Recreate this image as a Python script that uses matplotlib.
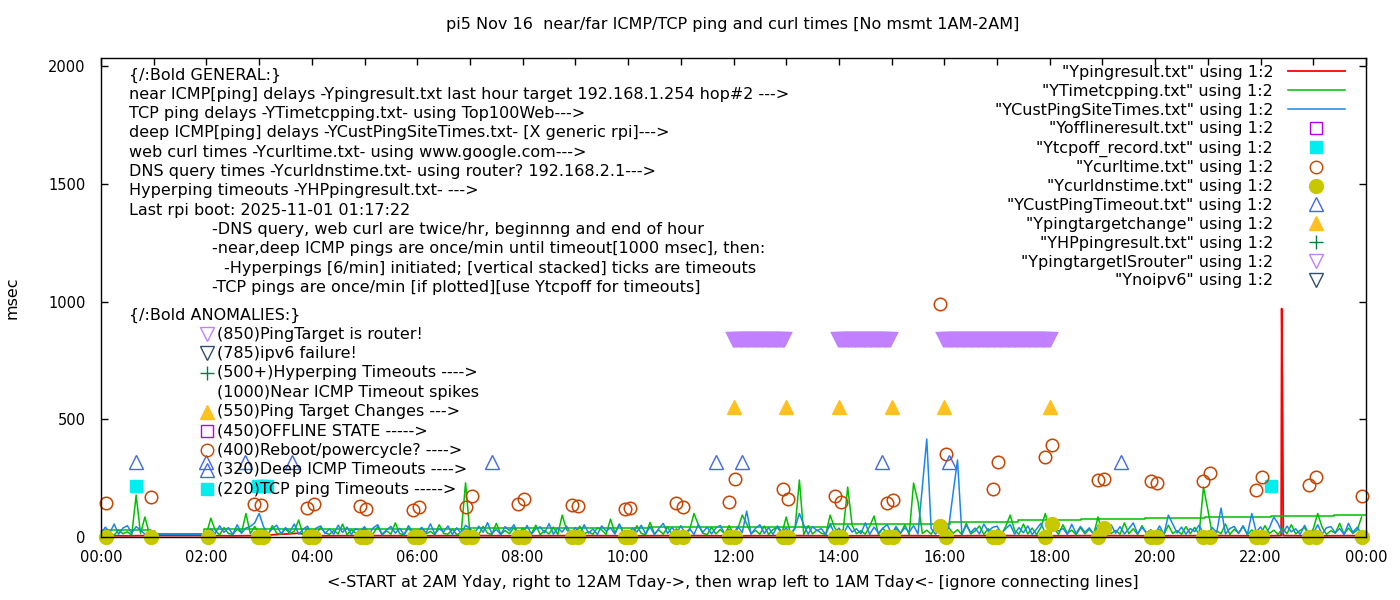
import matplotlib
matplotlib.use('Agg')
import matplotlib.pyplot as plt
from matplotlib.lines import Line2D

plt.rcParams['font.family'] = ['DejaVu Sans']

# x values are hours of the day, y values msec

# 5-minute samples, hour 0 then 2..23 (no msmt 1AM-2AM)
sample_hours = [0] + list(range(2, 24))
sample_minutes = [0, 5, 10, 15, 20, 25, 30, 35, 40, 45, 50, 55]

# YCustPingSiteTimes.txt (deep ICMP), one row per sampled hour
blue_rows = [
    [14, 42, 18, 55, 12, 38, 48, 16, 44, 30, 12, 12],
    [12, 35, 14, 48, 20, 40, 11, 52, 16, 38, 45, 60],
    [100, 44, 12, 36, 50, 14, 40, 22, 55, 12, 33, 46],
    [10, 38, 47, 15, 34, 12, 50, 19, 42, 11, 36, 25],
    [44, 13, 39, 52, 12, 30, 45, 16, 37, 10, 48, 20],
    [12, 41, 17, 56, 13, 35, 22, 47, 11, 39, 14, 50],
    [36, 12, 46, 20, 61, 14, 33, 10, 44, 27, 52, 13],
    [15, 49, 11, 35, 43, 18, 57, 12, 38, 21, 46, 14],
    [40, 13, 52, 16, 34, 11, 47, 25, 39, 12, 55, 17],
    [12, 37, 21, 50, 14, 43, 10, 36, 58, 15, 41, 13],
    [48, 16, 35, 11, 53, 20, 42, 13, 38, 49, 12, 33],
    [14, 45, 19, 110, 12, 37, 52, 15, 40, 11, 47, 22],
    [38, 13, 39, 100, 51, 12, 44, 27, 36, 10, 56, 14],
    [38, 12, 49, 21, 35, 14, 60, 11, 42, 17, 37, 53],
    [12, 45, 16, 39, 22, 48, 13, 212, 416, 36, 12, 40],
    [15, 43, 187, 327, 11, 50, 19, 38, 13, 55, 24, 41],
    [46, 14, 36, 52, 12, 40, 18, 47, 11, 34, 58, 16],
    [13, 42, 25, 37, 11, 54, 15, 45, 20, 39, 12, 49],
    [37, 12, 51, 16, 44, 13, 35, 60, 14, 41, 19, 30],
    [14, 47, 11, 93, 55, 17, 42, 12, 36, 23, 50, 13],
    [12, 40, 19, 123, 13, 36, 45, 15, 48, 11, 100, 21],
    [43, 12, 38, 85, 57, 14, 46, 22, 35, 11, 49, 13],
    [15, 52, 12, 39, 44, 18, 36, 11, 58, 20, 41, 14],
]

# YTimetcpping.txt (TCP ping)
green_rows = [
    [10, 25, 12, 8, 30, 14, 22, 9, 178, 15, 85, 13],
    [13, 80, 28, 9, 40, 15, 11, 33, 18, 100, 14, 45],
    [12, 30, 9, 48, 16, 11, 36, 14, 25, 72, 10, 38],
    [14, 9, 42, 18, 11, 28, 13, 55, 10, 31, 16, 12],
    [35, 11, 15, 44, 9, 26, 12, 60, 14, 10, 38, 17],
    [11, 40, 13, 24, 9, 52, 15, 12, 33, 10, 18, 230],
    [13, 29, 10, 45, 16, 11, 58, 12, 27, 14, 40, 9],
    [38, 12, 16, 50, 10, 27, 13, 42, 11, 93, 31, 15],
    [10, 46, 14, 22, 12, 39, 30, 11, 76, 17, 54, 13],
    [27, 11, 48, 15, 10, 62, 13, 30, 12, 43, 9, 35],
    [12, 14, 29, 100, 52, 16, 10, 41, 13, 33, 12, 48],
    [13, 37, 93, 56, 15, 28, 12, 46, 11, 32, 40, 14],
    [85, 12, 35, 242, 10, 48, 13, 30, 16, 11, 93, 40],
    [15, 33, 212, 50, 14, 27, 12, 45, 89, 10, 38, 13],
    [11, 36, 14, 52, 10, 229, 150, 15, 29, 12, 44, 16],
    [12, 40, 15, 31, 10, 58, 13, 26, 47, 11, 35, 14],
    [30, 11, 46, 93, 27, 12, 55, 13, 38, 10, 42, 100],
    [14, 36, 11, 52, 16, 29, 10, 40, 13, 33, 12, 85],
    [10, 44, 15, 28, 12, 60, 14, 35, 11, 48, 16, 30],
    [13, 32, 10, 50, 15, 27, 12, 44, 14, 41, 11, 212],
    [115, 12, 26, 14, 55, 11, 33, 16, 45, 10, 30, 13],
    [12, 48, 15, 29, 11, 37, 14, 52, 13, 28, 40, 10],
    [35, 100, 42, 11, 27, 16, 58, 12, 38, 15, 30, 85],
]

# connecting-line steps of the TCP file
tcp_step_t = [0.0, 0.95, 1.95, 7.0, 10.4, 13.83, 16.1, 17.4, 18.6, 19.8, 20.95, 22.2, 23.4, 24.0]
tcp_step_v = [30, 13, 32, 38, 42, 55, 62, 72, 76, 80, 85, 88, 93, 93]

# Ypingresult.txt (near ICMP)
red_t = [0.0, 0.5, 0.92, 2.0, 2.5, 3.0, 3.75, 4.0, 5.0, 6.0, 7.0, 8.0, 9.0, 10.0, 11.0, 12.0,
         13.0, 14.0, 15.0, 16.0, 17.0, 18.0, 19.0, 20.0, 21.0, 22.0, 22.39, 22.40, 22.42,
         22.43, 23.0, 24.0]
red_v = [6, 5, 6, 6, 5, 6, 16, 5, 6, 5, 6, 5, 6, 5, 6, 5,
         6, 5, 6, 5, 6, 5, 6, 5, 6, 5, 6, 970, 480,
         6, 5, 6]

# Yofflineresult.txt - nothing
offline_t = []
offline_v = []

# Ytcpoff_record.txt
tcpoff_t = [0.66, 2.98, 3.04, 3.10, 3.15, 22.2]
tcpoff_v = [215, 215, 215, 215, 215, 215]

# Ycurltime.txt
curl_t = [0.09, 0.95, 2.90, 3.04, 3.91, 4.04, 4.91, 5.03, 5.92, 6.03, 6.92, 7.04, 7.91, 8.03,
          8.94, 9.05, 9.94, 10.04, 10.91, 11.04, 11.91, 12.03, 12.94, 13.03, 13.93, 14.04,
          14.91, 15.03, 15.92, 16.03, 16.92, 17.02, 17.91, 18.04, 18.91, 19.03, 19.92, 20.03,
          20.91, 21.04, 21.91, 22.03, 22.92, 23.05, 23.92]
curl_v = [144, 170, 142, 136, 123, 140, 132, 119, 115, 127, 127, 174, 140, 161,
          136, 132, 119, 123, 144, 127, 149, 246, 204, 161, 174, 149,
          144, 157, 990, 352, 204, 318, 340, 391, 242, 246, 238, 229,
          238, 272, 200, 255, 221, 255, 174]

# Ycurldnstime.txt
dns_t = [0.09, 0.95, 2.03, 2.97, 3.07, 3.95, 4.04, 4.93, 5.03, 5.93, 6.03, 6.93, 7.04, 7.91,
         8.03, 8.94, 9.05, 9.94, 10.04, 10.91, 11.04, 11.91, 12.03, 12.94, 13.03, 13.93,
         14.04, 14.91, 15.03, 15.92, 16.03, 16.92, 17.02, 17.91, 18.04, 18.91, 19.03, 19.92,
         20.03, 20.91, 21.04, 21.91, 22.03, 22.92, 23.05, 23.92]
dns_v = [2, 2, 2, 2, 2, 2, 2, 2, 2, 2, 2, 2, 2, 2,
         2, 2, 2, 2, 2, 2, 2, 2, 2, 2, 2, 2,
         2, 2, 2, 47, 2, 2, 2, 2, 55, 2, 38, 2,
         2, 2, 2, 2, 2, 2, 2, 2]

# YCustPingTimeout.txt
deep_to_t = [0.66, 1.99, 2.73, 3.62, 7.42, 11.67, 12.16, 14.82, 16.09, 19.35]
deep_to_v = [320, 320, 320, 320, 320, 320, 320, 320, 320, 320]

# Ypingtargetchange
tchange_t = [12.0, 13.0, 14.0, 15.0, 16.0, 18.0]
tchange_v = [550, 550, 550, 550, 550, 550]

# YHPpingresult.txt - nothing
hyper_t = []
hyper_v = []

# YpingtargetISrouter (minute of day)
router_min = [
    720, 722, 724, 726, 728, 730, 732, 734, 736, 738, 740, 742, 744, 746, 748,
    750, 752, 754, 756, 758, 760, 762, 764, 766, 768, 770, 772, 774, 776, 778,
    840, 842, 844, 846, 848, 850, 852, 854, 856, 858, 860, 862, 864, 866, 868,
    870, 872, 874, 876, 878, 880, 882, 884, 886, 888, 890, 892, 894, 896, 898,
    960, 962, 964, 966, 968, 970, 972, 974, 976, 978, 980, 982, 984, 986, 988,
    990, 992, 994, 996, 998, 1000, 1002, 1004, 1006, 1008, 1010, 1012, 1014, 1016,
    1018, 1020, 1022, 1024, 1026, 1028, 1030, 1032, 1034, 1036, 1038, 1040, 1042,
    1044, 1046, 1048, 1050, 1052, 1054, 1056, 1058, 1060, 1062, 1064, 1066, 1068,
    1070, 1072, 1074, 1076, 1078, 1080,
]
router_level = 835

# Ynoipv6 - nothing
noipv6_t = []
noipv6_v = []

xtick_hours = [0, 2, 4, 6, 8, 10, 12, 14, 16, 18, 20, 22, 24]
xtick_labels = ['00:00', '02:00', '04:00', '06:00', '08:00', '10:00', '12:00',
                '14:00', '16:00', '18:00', '20:00', '22:00', '00:00']
ytick_vals = [0, 500, 1000, 1500, 2000]

title = 'pi5 Nov 16  near/far ICMP/TCP ping and curl times [No msmt 1AM-2AM]'
xlabel = '<-START at 2AM Yday, right to 12AM Tday->, then wrap left to 1AM Tday<- [ignore connecting lines]'

general_lines = [
    (0, '{/:Bold GENERAL:}'),
    (0, 'near ICMP[ping] delays -Ypingresult.txt last hour target 192.168.1.254 hop#2 --->'),
    (0, 'TCP ping delays -YTimetcpping.txt- using Top100Web--->'),
    (0, 'deep ICMP[ping] delays -YCustPingSiteTimes.txt- [X generic rpi]--->'),
    (0, 'web curl times -Ycurltime.txt- using www.google.com--->'),
    (0, 'DNS query times -Ycurldnstime.txt- using router? 192.168.2.1--->'),
    (0, 'Hyperping timeouts -YHPpingresult.txt- --->'),
    (0, 'Last rpi boot: 2025-11-01 01:17:22'),
    (83, '-DNS query, web curl are twice/hr, beginnng and end of hour'),
    (83, '-near,deep ICMP pings are once/min until timeout[1000 msec], then:'),
    (95, '-Hyperpings [6/min] initiated; [vertical stacked] ticks are timeouts'),
    (83, '-TCP pings are once/min [if plotted][use Ytcpoff for timeouts]'),
]

anomaly_lines = [
    '(850)PingTarget is router!',
    '(785)ipv6 failure!',
    '(500+)Hyperping Timeouts ---->',
    '(1000)Near ICMP Timeout spikes',
    '(550)Ping Target Changes --->',
    '(450)OFFLINE STATE ----->',
    '(400)Reboot/powercycle? ---->',
    '(320)Deep ICMP Timeouts ---->',
    '(220)TCP ping Timeouts ----->',
]

# ---- figure ----
W, H = 1400, 600
fig = plt.figure(figsize=(14, 6), dpi=100)
ax = fig.add_axes([101 / W, 63 / H, 1265 / W, 479 / H])


def fx(px):
    return px / W


def fy(py):
    return 1 - py / H


tgrid = [h + m / 60 for h in sample_hours for m in sample_minutes]
blue_v = sum(blue_rows, [])
green_v = sum(green_rows, [])

c_red = '#ff0000'
c_green = '#00c000'
c_blue = '#1a86f0'
c_offline = '#b400f0'
c_tcpoff = '#00eeee'
c_curl = '#c84300'
c_dns = '#c8c800'
c_deep = '#4169e1'
c_change = '#ffc020'
c_hyper = '#008040'
c_router = '#c080ff'
c_ipv6 = '#2f4f6f'

ax.plot(red_t, red_v, color=c_red, lw=1.3, label='"Ypingresult.txt" using 1:2', zorder=2)
ax.plot(tgrid, green_v, color=c_green, lw=1.1, label='"YTimetcpping.txt" using 1:2', zorder=3)
ax.step(tcp_step_t, tcp_step_v, where='post', color=c_green, lw=1.1, zorder=3)
ax.plot(tgrid, blue_v, color=c_blue, lw=1.1, label='"YCustPingSiteTimes.txt" using 1:2', zorder=4)

pts = dict(ls='none', clip_on=False)
ax.plot(offline_t, offline_v, marker='s', ms=8.5, mfc='none', mec=c_offline, mew=1.1,
        label='"Yofflineresult.txt" using 1:2', **pts)
ax.plot(tcpoff_t, tcpoff_v, marker='s', ms=8.5, color=c_tcpoff,
        label='"Ytcpoff_record.txt" using 1:2', zorder=5, **pts)
ax.plot(curl_t, curl_v, marker='o', ms=9, mfc='none', mec=c_curl, mew=1.1,
        label='"Ycurltime.txt" using 1:2', zorder=5, **pts)
ax.plot(dns_t, dns_v, marker='o', ms=10, color=c_dns,
        label='"Ycurldnstime.txt" using 1:2', zorder=6, **pts)
ax.plot(deep_to_t, deep_to_v, marker='^', ms=10, mfc='none', mec=c_deep, mew=1,
        label='"YCustPingTimeout.txt" using 1:2', zorder=5, **pts)
ax.plot(tchange_t, tchange_v, marker='^', ms=10, color=c_change,
        label='"Ypingtargetchange" using 1:2', zorder=5, **pts)
ax.plot(hyper_t, hyper_v, marker='+', ms=10, color=c_hyper, mew=1,
        label='"YHPpingresult.txt" using 1:2', **pts)
router_t = [m / 60 for m in router_min]
ax.plot(router_t, [router_level] * len(router_t), marker='v', ms=10.5, mfc='none',
        mec=c_router, mew=1.6, label='"YpingtargetISrouter" using 1:2', zorder=5, **pts)
ax.plot(noipv6_t, noipv6_v, marker='v', ms=10, mfc='none', mec=c_ipv6, mew=1,
        label='"Ynoipv6" using 1:2', **pts)

ax.set_xlim(0, 24)
ax.set_ylim(0, 2034)
ax.set_xticks(xtick_hours)
ax.set_xticklabels(xtick_labels)
ax.set_xticks(range(0, 25), minor=True)
ax.set_yticks(ytick_vals)
ax.tick_params(which='both', direction='in', top=True, right=True, length=5, width=1,
               labelsize=10.5)
ax.tick_params(axis='x', pad=9)
ax.tick_params(axis='y', pad=11)
for s in ax.spines.values():
    s.set_linewidth(1)
    s.set_zorder(10)

leg = ax.legend(loc='upper right', bbox_to_anchor=((1345 - 101) / 1265, (537 - 65) / 479),
                markerfirst=False, frameon=False, handlelength=3.6, handletextpad=0.9,
                labelspacing=0.24, borderpad=0, borderaxespad=0, fontsize=11.5, numpoints=1)
for h in leg.legend_handles:
    h.set_mew(1)

fig.text(fx(733), fy(25), title, ha='center', va='center', fontsize=11.5)
fig.text(fx(733), fy(582), xlabel, ha='center', va='center', fontsize=11.5)
fig.text(fx(12), fy(298), 'msec', ha='center', va='center', rotation=90, fontsize=11.5)

# annotation block
for i, (indent, line) in enumerate(general_lines):
    fig.text(fx(129 + indent), fy(75 + i * 19.3), line, ha='left', va='center', fontsize=11.5)

fig.text(fx(129), fy(315), '{/:Bold ANOMALIES:}', ha='left', va='center', fontsize=11.5)
anomaly_marks = [
    dict(marker='v', mfc='none', mec=c_router),
    dict(marker='v', mfc='none', mec=c_ipv6),
    dict(marker='+', mfc=c_hyper, mec=c_hyper),
    None,
    dict(marker='^', mfc=c_change, mec=c_change),
    dict(marker='s', mfc='none', mec=c_offline, ms=8.5),
    dict(marker='o', mfc='none', mec=c_curl, ms=9),
    dict(marker='^', mfc='none', mec=c_deep),
    dict(marker='s', mfc=c_tcpoff, mec=c_tcpoff, ms=8.5),
]
for i, line in enumerate(anomaly_lines):
    py = 334 + i * 19.4
    fig.text(fx(217), fy(py), line, ha='left', va='center', fontsize=11.5)
    mk = anomaly_marks[i]
    if mk is not None:
        style = dict(ms=10, mew=1)
        style.update(mk)
        fig.add_artist(Line2D([fx(207)], [fy(py)], ls='none', transform=fig.transFigure,
                              **style))

fig.savefig('out.png', dpi=100)
